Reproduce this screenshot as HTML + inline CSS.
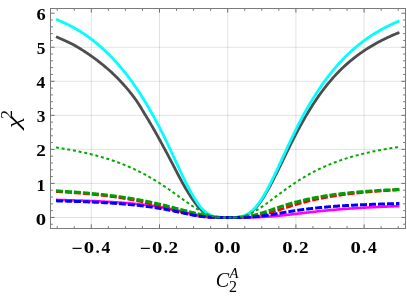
<!DOCTYPE html><html><head><meta charset="utf-8"><style>html,body{margin:0;padding:0;background:#fff;overflow:hidden}svg{display:block}text{font-family:"Liberation Serif",serif;fill:#000}</style></head><body>
<svg width="407" height="296" viewBox="0 0 407 296">
<rect width="407" height="296" fill="#fff"/>
<path d="M91.30 8.50 V228.50 M159.50 8.50 V228.50 M227.70 8.50 V228.50 M295.90 8.50 V228.50 M364.10 8.50 V228.50 M50.50 217.45 H405.50 M50.50 183.41 H405.50 M50.50 149.37 H405.50 M50.50 115.33 H405.50 M50.50 81.29 H405.50 M50.50 47.25 H405.50" stroke="#000" stroke-opacity="0.115" stroke-width="1" fill="none"/>
<clipPath id="c"><rect x="50.50" y="8.50" width="355.00" height="220.00"/></clipPath><g clip-path="url(#c)" fill="none" stroke-linejoin="round">
<path d="M55.97 36.71 L56.83 37.08 L57.68 37.46 L58.54 37.83 L59.39 38.20 L60.24 38.57 L61.10 38.94 L61.95 39.32 L62.81 39.69 L63.66 40.07 L64.52 40.45 L65.37 40.83 L66.22 41.22 L67.08 41.61 L67.93 42.01 L68.79 42.41 L69.64 42.83 L70.50 43.25 L71.35 43.68 L72.21 44.12 L73.06 44.57 L73.91 45.03 L74.77 45.50 L75.62 45.98 L76.48 46.47 L77.33 46.97 L78.19 47.47 L79.04 47.99 L79.89 48.51 L80.75 49.03 L81.60 49.57 L82.46 50.11 L83.31 50.65 L84.17 51.21 L85.02 51.77 L85.88 52.34 L86.73 52.91 L87.58 53.49 L88.44 54.07 L89.29 54.66 L90.15 55.26 L91.00 55.86 L91.86 56.47 L92.71 57.08 L93.56 57.70 L94.42 58.32 L95.27 58.95 L96.13 59.58 L96.98 60.22 L97.84 60.87 L98.69 61.52 L99.55 62.19 L100.40 62.86 L101.25 63.53 L102.11 64.22 L102.96 64.92 L103.82 65.62 L104.67 66.33 L105.53 67.06 L106.38 67.79 L107.23 68.52 L108.09 69.27 L108.94 70.02 L109.80 70.78 L110.65 71.55 L111.51 72.33 L112.36 73.12 L113.21 73.92 L114.07 74.73 L114.92 75.55 L115.78 76.39 L116.63 77.23 L117.49 78.09 L118.34 78.97 L119.20 79.86 L120.05 80.76 L120.90 81.68 L121.76 82.60 L122.61 83.54 L123.47 84.49 L124.32 85.45 L125.18 86.42 L126.03 87.41 L126.88 88.40 L127.74 89.42 L128.59 90.44 L129.45 91.48 L130.30 92.54 L131.16 93.61 L132.01 94.70 L132.87 95.80 L133.72 96.92 L134.57 98.06 L135.43 99.22 L136.28 100.41 L137.14 101.65 L137.99 102.95 L138.85 104.28 L139.70 105.65 L140.55 107.05 L141.41 108.46 L142.26 109.89 L143.12 111.32 L143.97 112.75 L144.83 114.16 L145.68 115.56 L146.54 116.97 L147.39 118.39 L148.24 119.81 L149.10 121.25 L149.95 122.69 L150.81 124.14 L151.66 125.60 L152.52 127.07 L153.37 128.55 L154.22 130.05 L155.08 131.55 L155.93 133.06 L156.79 134.59 L157.64 136.12 L158.50 137.66 L159.35 139.20 L160.21 140.76 L161.06 142.32 L161.91 143.89 L162.77 145.47 L163.62 147.06 L164.48 148.65 L165.33 150.25 L166.19 151.85 L167.04 153.46 L167.89 155.08 L168.75 156.70 L169.60 158.32 L170.46 159.95 L171.31 161.58 L172.17 163.22 L173.02 164.85 L173.87 166.50 L174.73 168.15 L175.58 169.80 L176.44 171.46 L177.29 173.11 L178.15 174.76 L179.00 176.40 L179.86 178.02 L180.71 179.62 L181.56 181.20 L182.42 182.74 L183.27 184.26 L184.13 185.75 L184.98 187.22 L185.84 188.67 L186.69 190.11 L187.54 191.52 L188.40 192.91 L189.25 194.28 L190.11 195.62 L190.96 196.94 L191.82 198.22 L192.67 199.48 L193.53 200.71 L194.38 201.90 L195.23 203.06 L196.09 204.18 L196.94 205.27 L197.80 206.30 L198.65 207.28 L199.51 208.19 L200.36 209.05 L201.21 209.85 L202.07 210.60 L202.92 211.29 L203.78 211.93 L204.63 212.53 L205.49 213.09 L206.34 213.60 L207.20 214.07 L208.05 214.51 L208.90 214.92 L209.76 215.30 L210.61 215.66 L211.47 215.99 L212.32 216.28 L213.18 216.53 L214.03 216.75 L214.88 216.93 L215.74 217.08 L216.59 217.20 L217.45 217.30 L218.30 217.37 L219.16 217.43 L220.01 217.47 L220.87 217.49 L221.72 217.51 L222.57 217.51 L223.43 217.51 L224.28 217.51 L225.14 217.51 L225.99 217.50 L226.85 217.50 L227.70 217.50 L228.55 217.50 L229.41 217.50 L230.26 217.50 L231.12 217.50 L231.97 217.49 L232.83 217.48 L233.68 217.47 L234.53 217.45 L235.39 217.42 L236.24 217.37 L237.10 217.31 L237.95 217.24 L238.81 217.15 L239.66 217.03 L240.52 216.89 L241.37 216.72 L242.22 216.52 L243.08 216.29 L243.93 216.02 L244.79 215.72 L245.64 215.37 L246.50 214.98 L247.35 214.55 L248.20 214.08 L249.06 213.55 L249.91 212.98 L250.77 212.36 L251.62 211.69 L252.48 210.97 L253.33 210.20 L254.19 209.37 L255.04 208.50 L255.89 207.58 L256.75 206.60 L257.60 205.58 L258.46 204.51 L259.31 203.39 L260.17 202.22 L261.02 201.01 L261.87 199.76 L262.73 198.46 L263.58 197.13 L264.44 195.75 L265.29 194.34 L266.15 192.90 L267.00 191.42 L267.86 189.91 L268.71 188.37 L269.56 186.80 L270.42 185.21 L271.27 183.60 L272.13 181.96 L272.98 180.31 L273.84 178.63 L274.69 176.94 L275.54 175.24 L276.40 173.53 L277.25 171.80 L278.11 170.07 L278.96 168.32 L279.82 166.58 L280.67 164.83 L281.53 163.07 L282.38 161.31 L283.23 159.56 L284.09 157.80 L284.94 156.05 L285.80 154.30 L286.65 152.56 L287.51 150.82 L288.36 149.08 L289.21 147.36 L290.07 145.64 L290.92 143.93 L291.78 142.23 L292.63 140.55 L293.49 138.87 L294.34 137.20 L295.19 135.55 L296.05 133.91 L296.90 132.28 L297.76 130.67 L298.61 129.07 L299.47 127.49 L300.32 125.92 L301.18 124.36 L302.03 122.82 L302.88 121.30 L303.74 119.79 L304.59 118.30 L305.45 116.82 L306.30 115.36 L307.16 113.92 L308.01 112.49 L308.86 111.08 L309.72 109.69 L310.57 108.31 L311.43 106.95 L312.28 105.60 L313.14 104.27 L313.99 102.96 L314.85 101.67 L315.70 100.39 L316.55 99.12 L317.41 97.88 L318.26 96.65 L319.12 95.43 L319.97 94.23 L320.83 93.05 L321.68 91.88 L322.53 90.73 L323.39 89.60 L324.24 88.47 L325.10 87.37 L325.95 86.28 L326.81 85.20 L327.66 84.14 L328.52 83.09 L329.37 82.06 L330.22 81.04 L331.08 80.04 L331.93 79.05 L332.79 78.08 L333.64 77.12 L334.50 76.17 L335.35 75.24 L336.20 74.33 L337.06 73.42 L337.91 72.54 L338.77 71.66 L339.62 70.80 L340.48 69.95 L341.33 69.11 L342.19 68.29 L343.04 67.48 L343.89 66.68 L344.75 65.89 L345.60 65.11 L346.46 64.35 L347.31 63.60 L348.17 62.85 L349.02 62.12 L349.87 61.40 L350.73 60.69 L351.58 59.99 L352.44 59.29 L353.29 58.61 L354.15 57.94 L355.00 57.28 L355.85 56.62 L356.71 55.98 L357.56 55.34 L358.42 54.71 L359.27 54.09 L360.13 53.48 L360.98 52.87 L361.84 52.28 L362.69 51.69 L363.54 51.11 L364.40 50.53 L365.25 49.96 L366.11 49.40 L366.96 48.85 L367.82 48.31 L368.67 47.77 L369.52 47.24 L370.38 46.72 L371.23 46.20 L372.09 45.69 L372.94 45.19 L373.80 44.69 L374.65 44.20 L375.51 43.72 L376.36 43.24 L377.21 42.77 L378.07 42.31 L378.92 41.85 L379.78 41.40 L380.63 40.95 L381.49 40.51 L382.34 40.07 L383.19 39.64 L384.05 39.22 L384.90 38.80 L385.76 38.39 L386.61 37.98 L387.47 37.58 L388.32 37.18 L389.18 36.79 L390.03 36.40 L390.88 36.01 L391.74 35.64 L392.59 35.26 L393.45 34.89 L394.30 34.53 L395.16 34.17 L396.01 33.81 L396.86 33.46 L397.72 33.11 L398.57 32.77 L399.43 32.43" stroke="#4d4d4d" stroke-width="2.80"/>
<path d="M55.97 19.17 L56.83 19.55 L57.68 19.93 L58.54 20.32 L59.39 20.70 L60.24 21.08 L61.10 21.46 L61.95 21.84 L62.81 22.22 L63.66 22.61 L64.52 23.00 L65.37 23.39 L66.22 23.79 L67.08 24.19 L67.93 24.60 L68.79 25.02 L69.64 25.44 L70.50 25.88 L71.35 26.32 L72.21 26.77 L73.06 27.23 L73.91 27.71 L74.77 28.19 L75.62 28.69 L76.48 29.18 L77.33 29.69 L78.19 30.20 L79.04 30.72 L79.89 31.24 L80.75 31.78 L81.60 32.32 L82.46 32.87 L83.31 33.42 L84.17 33.99 L85.02 34.56 L85.88 35.15 L86.73 35.74 L87.58 36.35 L88.44 36.96 L89.29 37.58 L90.15 38.22 L91.00 38.86 L91.86 39.52 L92.71 40.19 L93.56 40.86 L94.42 41.54 L95.27 42.23 L96.13 42.93 L96.98 43.64 L97.84 44.36 L98.69 45.08 L99.55 45.82 L100.40 46.56 L101.25 47.32 L102.11 48.08 L102.96 48.85 L103.82 49.63 L104.67 50.43 L105.53 51.23 L106.38 52.04 L107.23 52.87 L108.09 53.70 L108.94 54.54 L109.80 55.40 L110.65 56.26 L111.51 57.14 L112.36 58.03 L113.21 58.93 L114.07 59.84 L114.92 60.76 L115.78 61.69 L116.63 62.64 L117.49 63.59 L118.34 64.56 L119.20 65.54 L120.05 66.54 L120.90 67.54 L121.76 68.56 L122.61 69.59 L123.47 70.64 L124.32 71.70 L125.18 72.77 L126.03 73.85 L126.88 74.95 L127.74 76.06 L128.59 77.18 L129.45 78.32 L130.30 79.47 L131.16 80.64 L132.01 81.82 L132.87 83.01 L133.72 84.22 L134.57 85.44 L135.43 86.68 L136.28 87.93 L137.14 89.19 L137.99 90.47 L138.85 91.77 L139.70 93.08 L140.55 94.40 L141.41 95.74 L142.26 97.09 L143.12 98.46 L143.97 99.85 L144.83 101.24 L145.68 102.66 L146.54 104.09 L147.39 105.53 L148.24 106.99 L149.10 108.46 L149.95 109.95 L150.81 111.45 L151.66 112.96 L152.52 114.49 L153.37 116.04 L154.22 117.60 L155.08 119.17 L155.93 120.75 L156.79 122.35 L157.64 123.97 L158.50 125.59 L159.35 127.23 L160.21 128.88 L161.06 130.55 L161.91 132.24 L162.77 133.95 L163.62 135.68 L164.48 137.42 L165.33 139.17 L166.19 140.94 L167.04 142.73 L167.89 144.52 L168.75 146.32 L169.60 148.14 L170.46 149.96 L171.31 151.78 L172.17 153.62 L173.02 155.45 L173.87 157.29 L174.73 159.13 L175.58 160.96 L176.44 162.80 L177.29 164.63 L178.15 166.46 L179.00 168.30 L179.86 170.15 L180.71 171.99 L181.56 173.82 L182.42 175.64 L183.27 177.45 L184.13 179.22 L184.98 180.97 L185.84 182.69 L186.69 184.36 L187.54 186.00 L188.40 187.62 L189.25 189.21 L190.11 190.77 L190.96 192.31 L191.82 193.82 L192.67 195.30 L193.53 196.74 L194.38 198.15 L195.23 199.52 L196.09 200.86 L196.94 202.15 L197.80 203.40 L198.65 204.61 L199.51 205.75 L200.36 206.83 L201.21 207.82 L202.07 208.75 L202.92 209.62 L203.78 210.42 L204.63 211.16 L205.49 211.84 L206.34 212.48 L207.20 213.07 L208.05 213.62 L208.90 214.13 L209.76 214.61 L210.61 215.06 L211.47 215.48 L212.32 215.85 L213.18 216.18 L214.03 216.46 L214.88 216.70 L215.74 216.90 L216.59 217.06 L217.45 217.19 L218.30 217.30 L219.16 217.37 L220.01 217.43 L220.87 217.47 L221.72 217.49 L222.57 217.51 L223.43 217.51 L224.28 217.51 L225.14 217.51 L225.99 217.50 L226.85 217.50 L227.70 217.50 L228.55 217.50 L229.41 217.50 L230.26 217.50 L231.12 217.50 L231.97 217.49 L232.83 217.48 L233.68 217.47 L234.53 217.44 L235.39 217.41 L236.24 217.36 L237.10 217.30 L237.95 217.22 L238.81 217.12 L239.66 217.00 L240.52 216.85 L241.37 216.67 L242.22 216.46 L243.08 216.21 L243.93 215.93 L244.79 215.60 L245.64 215.24 L246.50 214.83 L247.35 214.37 L248.20 213.86 L249.06 213.31 L249.91 212.70 L250.77 212.05 L251.62 211.34 L252.48 210.58 L253.33 209.76 L254.19 208.89 L255.04 207.97 L255.89 206.99 L256.75 205.96 L257.60 204.88 L258.46 203.75 L259.31 202.57 L260.17 201.34 L261.02 200.07 L261.87 198.74 L262.73 197.38 L263.58 195.97 L264.44 194.52 L265.29 193.04 L266.15 191.52 L267.00 189.96 L267.86 188.37 L268.71 186.75 L269.56 185.10 L270.42 183.43 L271.27 181.73 L272.13 180.00 L272.98 178.26 L273.84 176.50 L274.69 174.72 L275.54 172.93 L276.40 171.12 L277.25 169.31 L278.11 167.48 L278.96 165.64 L279.82 163.80 L280.67 161.96 L281.53 160.11 L282.38 158.26 L283.23 156.41 L284.09 154.56 L284.94 152.71 L285.80 150.86 L286.65 149.02 L287.51 147.19 L288.36 145.36 L289.21 143.54 L290.07 141.72 L290.92 139.92 L291.78 138.13 L292.63 136.34 L293.49 134.57 L294.34 132.81 L295.19 131.06 L296.05 129.33 L296.90 127.61 L297.76 125.91 L298.61 124.23 L299.47 122.56 L300.32 120.92 L301.18 119.29 L302.03 117.68 L302.88 116.09 L303.74 114.51 L304.59 112.96 L305.45 111.42 L306.30 109.90 L307.16 108.40 L308.01 106.92 L308.86 105.45 L309.72 104.01 L310.57 102.57 L311.43 101.16 L312.28 99.76 L313.14 98.38 L313.99 97.01 L314.85 95.66 L315.70 94.33 L316.55 93.01 L317.41 91.71 L318.26 90.42 L319.12 89.14 L319.97 87.88 L320.83 86.63 L321.68 85.40 L322.53 84.17 L323.39 82.96 L324.24 81.77 L325.10 80.59 L325.95 79.43 L326.81 78.28 L327.66 77.15 L328.52 76.03 L329.37 74.92 L330.22 73.84 L331.08 72.76 L331.93 71.71 L332.79 70.66 L333.64 69.63 L334.50 68.62 L335.35 67.61 L336.20 66.63 L337.06 65.65 L337.91 64.69 L338.77 63.74 L339.62 62.81 L340.48 61.88 L341.33 60.98 L342.19 60.08 L343.04 59.19 L343.89 58.32 L344.75 57.46 L345.60 56.61 L346.46 55.76 L347.31 54.93 L348.17 54.11 L349.02 53.30 L349.87 52.50 L350.73 51.71 L351.58 50.93 L352.44 50.16 L353.29 49.40 L354.15 48.65 L355.00 47.91 L355.85 47.17 L356.71 46.45 L357.56 45.74 L358.42 45.04 L359.27 44.35 L360.13 43.67 L360.98 43.00 L361.84 42.35 L362.69 41.70 L363.54 41.06 L364.40 40.43 L365.25 39.81 L366.11 39.20 L366.96 38.59 L367.82 38.00 L368.67 37.41 L369.52 36.83 L370.38 36.26 L371.23 35.70 L372.09 35.14 L372.94 34.59 L373.80 34.05 L374.65 33.52 L375.51 33.00 L376.36 32.48 L377.21 31.97 L378.07 31.46 L378.92 30.96 L379.78 30.47 L380.63 29.99 L381.49 29.51 L382.34 29.04 L383.19 28.58 L384.05 28.12 L384.90 27.67 L385.76 27.22 L386.61 26.78 L387.47 26.35 L388.32 25.92 L389.18 25.50 L390.03 25.08 L390.88 24.67 L391.74 24.27 L392.59 23.87 L393.45 23.48 L394.30 23.09 L395.16 22.71 L396.01 22.33 L396.86 21.96 L397.72 21.59 L398.57 21.23 L399.43 20.87" stroke="#00ffff" stroke-width="2.80"/>
<path d="M55.97 199.90 L56.83 199.92 L57.68 199.94 L58.54 199.96 L59.39 199.98 L60.24 200.00 L61.10 200.02 L61.95 200.05 L62.81 200.07 L63.66 200.09 L64.52 200.11 L65.37 200.13 L66.22 200.16 L67.08 200.18 L67.93 200.20 L68.79 200.23 L69.64 200.25 L70.50 200.28 L71.35 200.30 L72.21 200.33 L73.06 200.35 L73.91 200.38 L74.77 200.41 L75.62 200.43 L76.48 200.46 L77.33 200.49 L78.19 200.52 L79.04 200.54 L79.89 200.57 L80.75 200.60 L81.60 200.63 L82.46 200.66 L83.31 200.69 L84.17 200.72 L85.02 200.76 L85.88 200.79 L86.73 200.82 L87.58 200.85 L88.44 200.89 L89.29 200.92 L90.15 200.96 L91.00 200.99 L91.86 201.03 L92.71 201.06 L93.56 201.10 L94.42 201.14 L95.27 201.17 L96.13 201.21 L96.98 201.25 L97.84 201.29 L98.69 201.33 L99.55 201.37 L100.40 201.41 L101.25 201.46 L102.11 201.50 L102.96 201.54 L103.82 201.59 L104.67 201.63 L105.53 201.68 L106.38 201.73 L107.23 201.77 L108.09 201.82 L108.94 201.87 L109.80 201.92 L110.65 201.97 L111.51 202.02 L112.36 202.07 L113.21 202.13 L114.07 202.18 L114.92 202.24 L115.78 202.29 L116.63 202.35 L117.49 202.41 L118.34 202.47 L119.20 202.52 L120.05 202.59 L120.90 202.65 L121.76 202.71 L122.61 202.77 L123.47 202.84 L124.32 202.91 L125.18 202.97 L126.03 203.04 L126.88 203.11 L127.74 203.18 L128.59 203.26 L129.45 203.33 L130.30 203.41 L131.16 203.48 L132.01 203.56 L132.87 203.64 L133.72 203.72 L134.57 203.80 L135.43 203.88 L136.28 203.97 L137.14 204.06 L137.99 204.14 L138.85 204.23 L139.70 204.33 L140.55 204.42 L141.41 204.51 L142.26 204.61 L143.12 204.71 L143.97 204.81 L144.83 204.91 L145.68 205.01 L146.54 205.12 L147.39 205.23 L148.24 205.33 L149.10 205.45 L149.95 205.56 L150.81 205.67 L151.66 205.79 L152.52 205.91 L153.37 206.03 L154.22 206.16 L155.08 206.28 L155.93 206.41 L156.79 206.54 L157.64 206.67 L158.50 206.81 L159.35 206.94 L160.21 207.08 L161.06 207.23 L161.91 207.37 L162.77 207.52 L163.62 207.67 L164.48 207.82 L165.33 207.97 L166.19 208.13 L167.04 208.29 L167.89 208.45 L168.75 208.61 L169.60 208.78 L170.46 208.94 L171.31 209.11 L172.17 209.29 L173.02 209.46 L173.87 209.64 L174.73 209.82 L175.58 210.00 L176.44 210.18 L177.29 210.37 L178.15 210.55 L179.00 210.74 L179.86 210.93 L180.71 211.13 L181.56 211.32 L182.42 211.52 L183.27 211.71 L184.13 211.91 L184.98 212.11 L185.84 212.31 L186.69 212.51 L187.54 212.70 L188.40 212.90 L189.25 213.10 L190.11 213.30 L190.96 213.50 L191.82 213.70 L192.67 213.89 L193.53 214.08 L194.38 214.27 L195.23 214.46 L196.09 214.65 L196.94 214.83 L197.80 215.01 L198.65 215.19 L199.51 215.36 L200.36 215.52 L201.21 215.68 L202.07 215.84 L202.92 215.99 L203.78 216.13 L204.63 216.27 L205.49 216.40 L206.34 216.52 L207.20 216.63 L208.05 216.74 L208.90 216.84 L209.76 216.93 L210.61 217.02 L211.47 217.09 L212.32 217.16 L213.18 217.22 L214.03 217.27 L214.88 217.32 L215.74 217.36 L216.59 217.39 L217.45 217.42 L218.30 217.44 L219.16 217.46 L220.01 217.47 L220.87 217.48 L221.72 217.49 L222.57 217.49 L223.43 217.50 L224.28 217.50 L225.14 217.50 L225.99 217.50 L226.85 217.50 L227.70 217.50 L228.55 217.50 L229.41 217.50 L230.26 217.50 L231.12 217.50 L231.97 217.50 L232.83 217.50 L233.68 217.50 L234.53 217.50 L235.39 217.50 L236.24 217.50 L237.10 217.50 L237.95 217.49 L238.81 217.49 L239.66 217.49 L240.52 217.49 L241.37 217.48 L242.22 217.48 L243.08 217.47 L243.93 217.47 L244.79 217.46 L245.64 217.45 L246.50 217.44 L247.35 217.43 L248.20 217.42 L249.06 217.41 L249.91 217.40 L250.77 217.38 L251.62 217.36 L252.48 217.34 L253.33 217.32 L254.19 217.30 L255.04 217.28 L255.89 217.25 L256.75 217.22 L257.60 217.19 L258.46 217.16 L259.31 217.12 L260.17 217.09 L261.02 217.05 L261.87 217.01 L262.73 216.97 L263.58 216.92 L264.44 216.87 L265.29 216.82 L266.15 216.77 L267.00 216.71 L267.86 216.66 L268.71 216.60 L269.56 216.54 L270.42 216.47 L271.27 216.41 L272.13 216.34 L272.98 216.27 L273.84 216.20 L274.69 216.13 L275.54 216.05 L276.40 215.97 L277.25 215.89 L278.11 215.81 L278.96 215.73 L279.82 215.65 L280.67 215.56 L281.53 215.48 L282.38 215.39 L283.23 215.30 L284.09 215.21 L284.94 215.11 L285.80 215.02 L286.65 214.93 L287.51 214.83 L288.36 214.74 L289.21 214.64 L290.07 214.54 L290.92 214.44 L291.78 214.35 L292.63 214.25 L293.49 214.15 L294.34 214.05 L295.19 213.95 L296.05 213.85 L296.90 213.75 L297.76 213.65 L298.61 213.55 L299.47 213.45 L300.32 213.35 L301.18 213.24 L302.03 213.14 L302.88 213.04 L303.74 212.94 L304.59 212.85 L305.45 212.75 L306.30 212.65 L307.16 212.55 L308.01 212.45 L308.86 212.35 L309.72 212.26 L310.57 212.16 L311.43 212.07 L312.28 211.97 L313.14 211.88 L313.99 211.78 L314.85 211.69 L315.70 211.60 L316.55 211.50 L317.41 211.41 L318.26 211.32 L319.12 211.23 L319.97 211.15 L320.83 211.06 L321.68 210.97 L322.53 210.88 L323.39 210.80 L324.24 210.71 L325.10 210.63 L325.95 210.55 L326.81 210.47 L327.66 210.39 L328.52 210.30 L329.37 210.23 L330.22 210.15 L331.08 210.07 L331.93 209.99 L332.79 209.92 L333.64 209.84 L334.50 209.77 L335.35 209.69 L336.20 209.62 L337.06 209.55 L337.91 209.48 L338.77 209.41 L339.62 209.34 L340.48 209.27 L341.33 209.20 L342.19 209.14 L343.04 209.07 L343.89 209.00 L344.75 208.94 L345.60 208.88 L346.46 208.81 L347.31 208.75 L348.17 208.69 L349.02 208.63 L349.87 208.57 L350.73 208.51 L351.58 208.45 L352.44 208.40 L353.29 208.34 L354.15 208.28 L355.00 208.23 L355.85 208.17 L356.71 208.12 L357.56 208.07 L358.42 208.01 L359.27 207.96 L360.13 207.91 L360.98 207.86 L361.84 207.81 L362.69 207.76 L363.54 207.71 L364.40 207.66 L365.25 207.61 L366.11 207.57 L366.96 207.52 L367.82 207.48 L368.67 207.43 L369.52 207.39 L370.38 207.34 L371.23 207.30 L372.09 207.26 L372.94 207.21 L373.80 207.17 L374.65 207.13 L375.51 207.09 L376.36 207.05 L377.21 207.01 L378.07 206.97 L378.92 206.93 L379.78 206.89 L380.63 206.86 L381.49 206.82 L382.34 206.78 L383.19 206.74 L384.05 206.71 L384.90 206.67 L385.76 206.64 L386.61 206.60 L387.47 206.57 L388.32 206.54 L389.18 206.50 L390.03 206.47 L390.88 206.44 L391.74 206.40 L392.59 206.37 L393.45 206.34 L394.30 206.31 L395.16 206.28 L396.01 206.25 L396.86 206.22 L397.72 206.19 L398.57 206.16 L399.43 206.13" stroke="#ff00ff" stroke-width="2.60"/>
<path d="M55.97 191.48 L56.83 191.53 L57.68 191.58 L58.54 191.63 L59.39 191.68 L60.24 191.74 L61.10 191.79 L61.95 191.84 L62.81 191.90 L63.66 191.95 L64.52 192.01 L65.37 192.06 L66.22 192.12 L67.08 192.18 L67.93 192.24 L68.79 192.30 L69.64 192.36 L70.50 192.42 L71.35 192.48 L72.21 192.54 L73.06 192.61 L73.91 192.67 L74.77 192.73 L75.62 192.80 L76.48 192.87 L77.33 192.93 L78.19 193.00 L79.04 193.07 L79.89 193.14 L80.75 193.21 L81.60 193.28 L82.46 193.36 L83.31 193.43 L84.17 193.50 L85.02 193.58 L85.88 193.66 L86.73 193.73 L87.58 193.81 L88.44 193.89 L89.29 193.97 L90.15 194.05 L91.00 194.14 L91.86 194.22 L92.71 194.31 L93.56 194.39 L94.42 194.48 L95.27 194.57 L96.13 194.66 L96.98 194.75 L97.84 194.84 L98.69 194.93 L99.55 195.03 L100.40 195.12 L101.25 195.22 L102.11 195.32 L102.96 195.42 L103.82 195.52 L104.67 195.62 L105.53 195.73 L106.38 195.83 L107.23 195.94 L108.09 196.05 L108.94 196.15 L109.80 196.27 L110.65 196.38 L111.51 196.49 L112.36 196.61 L113.21 196.72 L114.07 196.84 L114.92 196.96 L115.78 197.09 L116.63 197.21 L117.49 197.33 L118.34 197.46 L119.20 197.59 L120.05 197.72 L120.90 197.85 L121.76 197.99 L122.61 198.12 L123.47 198.26 L124.32 198.40 L125.18 198.54 L126.03 198.68 L126.88 198.83 L127.74 198.98 L128.59 199.13 L129.45 199.28 L130.30 199.43 L131.16 199.58 L132.01 199.74 L132.87 199.90 L133.72 200.06 L134.57 200.22 L135.43 200.39 L136.28 200.56 L137.14 200.73 L137.99 200.90 L138.85 201.07 L139.70 201.25 L140.55 201.42 L141.41 201.60 L142.26 201.79 L143.12 201.97 L143.97 202.16 L144.83 202.35 L145.68 202.54 L146.54 202.73 L147.39 202.93 L148.24 203.12 L149.10 203.32 L149.95 203.53 L150.81 203.73 L151.66 203.94 L152.52 204.14 L153.37 204.35 L154.22 204.57 L155.08 204.78 L155.93 205.00 L156.79 205.21 L157.64 205.43 L158.50 205.66 L159.35 205.88 L160.21 206.11 L161.06 206.33 L161.91 206.56 L162.77 206.79 L163.62 207.02 L164.48 207.26 L165.33 207.49 L166.19 207.73 L167.04 207.96 L167.89 208.20 L168.75 208.44 L169.60 208.68 L170.46 208.92 L171.31 209.16 L172.17 209.40 L173.02 209.64 L173.87 209.88 L174.73 210.12 L175.58 210.36 L176.44 210.60 L177.29 210.84 L178.15 211.08 L179.00 211.31 L179.86 211.55 L180.71 211.78 L181.56 212.02 L182.42 212.25 L183.27 212.47 L184.13 212.70 L184.98 212.92 L185.84 213.14 L186.69 213.36 L187.54 213.57 L188.40 213.78 L189.25 213.99 L190.11 214.19 L190.96 214.39 L191.82 214.58 L192.67 214.76 L193.53 214.95 L194.38 215.12 L195.23 215.29 L196.09 215.46 L196.94 215.62 L197.80 215.77 L198.65 215.91 L199.51 216.05 L200.36 216.18 L201.21 216.31 L202.07 216.43 L202.92 216.54 L203.78 216.64 L204.63 216.74 L205.49 216.83 L206.34 216.91 L207.20 216.99 L208.05 217.06 L208.90 217.12 L209.76 217.18 L210.61 217.23 L211.47 217.28 L212.32 217.32 L213.18 217.35 L214.03 217.38 L214.88 217.41 L215.74 217.43 L216.59 217.45 L217.45 217.46 L218.30 217.47 L219.16 217.48 L220.01 217.49 L220.87 217.49 L221.72 217.50 L222.57 217.50 L223.43 217.50 L224.28 217.50 L225.14 217.50 L225.99 217.50 L226.85 217.50 L227.70 217.50 L228.55 217.50 L229.41 217.50 L230.26 217.50 L231.12 217.50 L231.97 217.50 L232.83 217.50 L233.68 217.50 L234.53 217.49 L235.39 217.49 L236.24 217.48 L237.10 217.47 L237.95 217.46 L238.81 217.45 L239.66 217.43 L240.52 217.41 L241.37 217.39 L242.22 217.36 L243.08 217.33 L243.93 217.29 L244.79 217.25 L245.64 217.20 L246.50 217.14 L247.35 217.08 L248.20 217.01 L249.06 216.93 L249.91 216.85 L250.77 216.75 L251.62 216.65 L252.48 216.55 L253.33 216.43 L254.19 216.31 L255.04 216.17 L255.89 216.03 L256.75 215.88 L257.60 215.73 L258.46 215.56 L259.31 215.39 L260.17 215.21 L261.02 215.02 L261.87 214.83 L262.73 214.63 L263.58 214.42 L264.44 214.20 L265.29 213.98 L266.15 213.76 L267.00 213.52 L267.86 213.29 L268.71 213.04 L269.56 212.80 L270.42 212.55 L271.27 212.29 L272.13 212.03 L272.98 211.77 L273.84 211.51 L274.69 211.24 L275.54 210.97 L276.40 210.70 L277.25 210.42 L278.11 210.15 L278.96 209.87 L279.82 209.60 L280.67 209.32 L281.53 209.04 L282.38 208.77 L283.23 208.49 L284.09 208.21 L284.94 207.94 L285.80 207.66 L286.65 207.39 L287.51 207.12 L288.36 206.84 L289.21 206.58 L290.07 206.31 L290.92 206.04 L291.78 205.78 L292.63 205.51 L293.49 205.25 L294.34 205.00 L295.19 204.74 L296.05 204.49 L296.90 204.24 L297.76 203.99 L298.61 203.74 L299.47 203.50 L300.32 203.26 L301.18 203.02 L302.03 202.79 L302.88 202.56 L303.74 202.33 L304.59 202.10 L305.45 201.88 L306.30 201.66 L307.16 201.44 L308.01 201.23 L308.86 201.01 L309.72 200.80 L310.57 200.60 L311.43 200.40 L312.28 200.20 L313.14 200.00 L313.99 199.80 L314.85 199.61 L315.70 199.42 L316.55 199.24 L317.41 199.05 L318.26 198.87 L319.12 198.69 L319.97 198.52 L320.83 198.35 L321.68 198.17 L322.53 198.01 L323.39 197.84 L324.24 197.68 L325.10 197.52 L325.95 197.36 L326.81 197.21 L327.66 197.05 L328.52 196.90 L329.37 196.75 L330.22 196.61 L331.08 196.46 L331.93 196.32 L332.79 196.18 L333.64 196.05 L334.50 195.91 L335.35 195.78 L336.20 195.65 L337.06 195.52 L337.91 195.39 L338.77 195.26 L339.62 195.14 L340.48 195.02 L341.33 194.90 L342.19 194.78 L343.04 194.67 L343.89 194.55 L344.75 194.44 L345.60 194.33 L346.46 194.22 L347.31 194.11 L348.17 194.01 L349.02 193.90 L349.87 193.80 L350.73 193.70 L351.58 193.60 L352.44 193.50 L353.29 193.41 L354.15 193.31 L355.00 193.22 L355.85 193.13 L356.71 193.04 L357.56 192.95 L358.42 192.86 L359.27 192.77 L360.13 192.69 L360.98 192.60 L361.84 192.52 L362.69 192.44 L363.54 192.36 L364.40 192.28 L365.25 192.20 L366.11 192.12 L366.96 192.04 L367.82 191.97 L368.67 191.90 L369.52 191.82 L370.38 191.75 L371.23 191.68 L372.09 191.61 L372.94 191.54 L373.80 191.47 L374.65 191.41 L375.51 191.34 L376.36 191.28 L377.21 191.21 L378.07 191.15 L378.92 191.09 L379.78 191.02 L380.63 190.96 L381.49 190.90 L382.34 190.84 L383.19 190.79 L384.05 190.73 L384.90 190.67 L385.76 190.62 L386.61 190.56 L387.47 190.51 L388.32 190.45 L389.18 190.40 L390.03 190.35 L390.88 190.30 L391.74 190.24 L392.59 190.19 L393.45 190.15 L394.30 190.10 L395.16 190.05 L396.01 190.00 L396.86 189.95 L397.72 189.91 L398.57 189.86 L399.43 189.82" stroke="#ff0000" stroke-width="2.80" stroke-dasharray="7 2"/>
<path d="M55.97 190.82 L56.83 190.87 L57.68 190.92 L58.54 190.97 L59.39 191.02 L60.24 191.08 L61.10 191.13 L61.95 191.18 L62.81 191.23 L63.66 191.29 L64.52 191.34 L65.37 191.40 L66.22 191.45 L67.08 191.51 L67.93 191.57 L68.79 191.63 L69.64 191.68 L70.50 191.74 L71.35 191.80 L72.21 191.86 L73.06 191.93 L73.91 191.99 L74.77 192.05 L75.62 192.11 L76.48 192.18 L77.33 192.24 L78.19 192.31 L79.04 192.38 L79.89 192.44 L80.75 192.51 L81.60 192.58 L82.46 192.65 L83.31 192.72 L84.17 192.79 L85.02 192.87 L85.88 192.94 L86.73 193.01 L87.58 193.09 L88.44 193.17 L89.29 193.24 L90.15 193.32 L91.00 193.40 L91.86 193.48 L92.71 193.56 L93.56 193.64 L94.42 193.73 L95.27 193.81 L96.13 193.89 L96.98 193.98 L97.84 194.07 L98.69 194.16 L99.55 194.25 L100.40 194.34 L101.25 194.43 L102.11 194.52 L102.96 194.61 L103.82 194.71 L104.67 194.81 L105.53 194.90 L106.38 195.00 L107.23 195.10 L108.09 195.20 L108.94 195.31 L109.80 195.41 L110.65 195.51 L111.51 195.62 L112.36 195.73 L113.21 195.84 L114.07 195.95 L114.92 196.06 L115.78 196.17 L116.63 196.29 L117.49 196.40 L118.34 196.52 L119.20 196.64 L120.05 196.76 L120.90 196.88 L121.76 197.00 L122.61 197.13 L123.47 197.25 L124.32 197.38 L125.18 197.51 L126.03 197.64 L126.88 197.77 L127.74 197.91 L128.59 198.04 L129.45 198.18 L130.30 198.32 L131.16 198.46 L132.01 198.60 L132.87 198.75 L133.72 198.89 L134.57 199.04 L135.43 199.19 L136.28 199.34 L137.14 199.49 L137.99 199.65 L138.85 199.80 L139.70 199.96 L140.55 200.12 L141.41 200.28 L142.26 200.45 L143.12 200.61 L143.97 200.78 L144.83 200.95 L145.68 201.12 L146.54 201.29 L147.39 201.46 L148.24 201.64 L149.10 201.82 L149.95 202.00 L150.81 202.18 L151.66 202.36 L152.52 202.55 L153.37 202.73 L154.22 202.92 L155.08 203.11 L155.93 203.31 L156.79 203.50 L157.64 203.70 L158.50 203.89 L159.35 204.09 L160.21 204.29 L161.06 204.49 L161.91 204.70 L162.77 204.90 L163.62 205.11 L164.48 205.32 L165.33 205.53 L166.19 205.74 L167.04 205.95 L167.89 206.16 L168.75 206.38 L169.60 206.60 L170.46 206.81 L171.31 207.03 L172.17 207.25 L173.02 207.47 L173.87 207.69 L174.73 207.91 L175.58 208.13 L176.44 208.36 L177.29 208.58 L178.15 208.81 L179.00 209.03 L179.86 209.25 L180.71 209.48 L181.56 209.70 L182.42 209.93 L183.27 210.15 L184.13 210.38 L184.98 210.60 L185.84 210.82 L186.69 211.04 L187.54 211.26 L188.40 211.48 L189.25 211.70 L190.11 211.92 L190.96 212.14 L191.82 212.35 L192.67 212.56 L193.53 212.77 L194.38 212.98 L195.23 213.19 L196.09 213.39 L196.94 213.59 L197.80 213.79 L198.65 213.99 L199.51 214.18 L200.36 214.37 L201.21 214.55 L202.07 214.73 L202.92 214.91 L203.78 215.09 L204.63 215.25 L205.49 215.42 L206.34 215.58 L207.20 215.73 L208.05 215.88 L208.90 216.03 L209.76 216.17 L210.61 216.30 L211.47 216.43 L212.32 216.55 L213.18 216.67 L214.03 216.78 L214.88 216.88 L215.74 216.97 L216.59 217.06 L217.45 217.14 L218.30 217.21 L219.16 217.28 L220.01 217.34 L220.87 217.38 L221.72 217.42 L222.57 217.45 L223.43 217.47 L224.28 217.49 L225.14 217.50 L225.99 217.50 L226.85 217.50 L227.70 217.50 L228.55 217.50 L229.41 217.50 L230.26 217.50 L231.12 217.50 L231.97 217.50 L232.83 217.49 L233.68 217.49 L234.53 217.48 L235.39 217.47 L236.24 217.45 L237.10 217.43 L237.95 217.40 L238.81 217.37 L239.66 217.33 L240.52 217.28 L241.37 217.22 L242.22 217.16 L243.08 217.08 L243.93 216.99 L244.79 216.90 L245.64 216.79 L246.50 216.67 L247.35 216.55 L248.20 216.41 L249.06 216.26 L249.91 216.10 L250.77 215.93 L251.62 215.75 L252.48 215.56 L253.33 215.37 L254.19 215.16 L255.04 214.94 L255.89 214.72 L256.75 214.49 L257.60 214.25 L258.46 214.01 L259.31 213.76 L260.17 213.50 L261.02 213.24 L261.87 212.97 L262.73 212.70 L263.58 212.43 L264.44 212.15 L265.29 211.87 L266.15 211.58 L267.00 211.30 L267.86 211.01 L268.71 210.72 L269.56 210.43 L270.42 210.13 L271.27 209.84 L272.13 209.55 L272.98 209.26 L273.84 208.96 L274.69 208.67 L275.54 208.38 L276.40 208.09 L277.25 207.81 L278.11 207.52 L278.96 207.23 L279.82 206.95 L280.67 206.67 L281.53 206.39 L282.38 206.11 L283.23 205.84 L284.09 205.57 L284.94 205.30 L285.80 205.03 L286.65 204.77 L287.51 204.50 L288.36 204.25 L289.21 203.99 L290.07 203.74 L290.92 203.49 L291.78 203.24 L292.63 203.00 L293.49 202.76 L294.34 202.52 L295.19 202.29 L296.05 202.06 L296.90 201.83 L297.76 201.60 L298.61 201.38 L299.47 201.16 L300.32 200.95 L301.18 200.74 L302.03 200.53 L302.88 200.32 L303.74 200.12 L304.59 199.92 L305.45 199.72 L306.30 199.53 L307.16 199.33 L308.01 199.15 L308.86 198.96 L309.72 198.78 L310.57 198.60 L311.43 198.42 L312.28 198.25 L313.14 198.08 L313.99 197.91 L314.85 197.74 L315.70 197.58 L316.55 197.42 L317.41 197.26 L318.26 197.10 L319.12 196.95 L319.97 196.80 L320.83 196.65 L321.68 196.51 L322.53 196.36 L323.39 196.22 L324.24 196.08 L325.10 195.94 L325.95 195.81 L326.81 195.68 L327.66 195.54 L328.52 195.42 L329.37 195.29 L330.22 195.17 L331.08 195.04 L331.93 194.92 L332.79 194.80 L333.64 194.69 L334.50 194.57 L335.35 194.46 L336.20 194.35 L337.06 194.24 L337.91 194.13 L338.77 194.02 L339.62 193.92 L340.48 193.81 L341.33 193.71 L342.19 193.61 L343.04 193.52 L343.89 193.42 L344.75 193.32 L345.60 193.23 L346.46 193.14 L347.31 193.05 L348.17 192.96 L349.02 192.87 L349.87 192.78 L350.73 192.70 L351.58 192.61 L352.44 192.53 L353.29 192.45 L354.15 192.37 L355.00 192.29 L355.85 192.21 L356.71 192.13 L357.56 192.06 L358.42 191.98 L359.27 191.91 L360.13 191.83 L360.98 191.76 L361.84 191.69 L362.69 191.62 L363.54 191.55 L364.40 191.49 L365.25 191.42 L366.11 191.35 L366.96 191.29 L367.82 191.23 L368.67 191.16 L369.52 191.10 L370.38 191.04 L371.23 190.98 L372.09 190.92 L372.94 190.86 L373.80 190.80 L374.65 190.75 L375.51 190.69 L376.36 190.64 L377.21 190.58 L378.07 190.53 L378.92 190.48 L379.78 190.42 L380.63 190.37 L381.49 190.32 L382.34 190.27 L383.19 190.22 L384.05 190.17 L384.90 190.12 L385.76 190.08 L386.61 190.03 L387.47 189.98 L388.32 189.94 L389.18 189.89 L390.03 189.85 L390.88 189.80 L391.74 189.76 L392.59 189.72 L393.45 189.67 L394.30 189.63 L395.16 189.59 L396.01 189.55 L396.86 189.51 L397.72 189.47 L398.57 189.43 L399.43 189.39" stroke="#009e00" stroke-width="3.00" stroke-dasharray="7 2"/>
<path d="M55.97 200.85 L56.83 200.87 L57.68 200.90 L58.54 200.92 L59.39 200.94 L60.24 200.96 L61.10 200.98 L61.95 201.01 L62.81 201.03 L63.66 201.05 L64.52 201.08 L65.37 201.10 L66.22 201.12 L67.08 201.15 L67.93 201.17 L68.79 201.20 L69.64 201.22 L70.50 201.25 L71.35 201.28 L72.21 201.30 L73.06 201.33 L73.91 201.36 L74.77 201.39 L75.62 201.41 L76.48 201.44 L77.33 201.47 L78.19 201.50 L79.04 201.53 L79.89 201.56 L80.75 201.59 L81.60 201.63 L82.46 201.66 L83.31 201.69 L84.17 201.72 L85.02 201.76 L85.88 201.79 L86.73 201.82 L87.58 201.86 L88.44 201.89 L89.29 201.93 L90.15 201.97 L91.00 202.00 L91.86 202.04 L92.71 202.08 L93.56 202.12 L94.42 202.16 L95.27 202.20 L96.13 202.24 L96.98 202.28 L97.84 202.32 L98.69 202.37 L99.55 202.41 L100.40 202.45 L101.25 202.50 L102.11 202.54 L102.96 202.59 L103.82 202.64 L104.67 202.69 L105.53 202.73 L106.38 202.78 L107.23 202.83 L108.09 202.88 L108.94 202.94 L109.80 202.99 L110.65 203.04 L111.51 203.10 L112.36 203.15 L113.21 203.21 L114.07 203.27 L114.92 203.33 L115.78 203.39 L116.63 203.45 L117.49 203.51 L118.34 203.57 L119.20 203.63 L120.05 203.70 L120.90 203.77 L121.76 203.83 L122.61 203.90 L123.47 203.97 L124.32 204.04 L125.18 204.11 L126.03 204.19 L126.88 204.26 L127.74 204.34 L128.59 204.41 L129.45 204.49 L130.30 204.57 L131.16 204.65 L132.01 204.74 L132.87 204.82 L133.72 204.91 L134.57 204.99 L135.43 205.08 L136.28 205.17 L137.14 205.27 L137.99 205.36 L138.85 205.46 L139.70 205.55 L140.55 205.65 L141.41 205.75 L142.26 205.86 L143.12 205.96 L143.97 206.07 L144.83 206.17 L145.68 206.28 L146.54 206.40 L147.39 206.51 L148.24 206.63 L149.10 206.74 L149.95 206.86 L150.81 206.98 L151.66 207.11 L152.52 207.24 L153.37 207.36 L154.22 207.49 L155.08 207.63 L155.93 207.76 L156.79 207.90 L157.64 208.04 L158.50 208.18 L159.35 208.32 L160.21 208.47 L161.06 208.61 L161.91 208.76 L162.77 208.92 L163.62 209.07 L164.48 209.23 L165.33 209.38 L166.19 209.55 L167.04 209.71 L167.89 209.87 L168.75 210.04 L169.60 210.21 L170.46 210.38 L171.31 210.55 L172.17 210.72 L173.02 210.90 L173.87 211.07 L174.73 211.25 L175.58 211.43 L176.44 211.61 L177.29 211.79 L178.15 211.97 L179.00 212.16 L179.86 212.34 L180.71 212.52 L181.56 212.71 L182.42 212.89 L183.27 213.07 L184.13 213.26 L184.98 213.44 L185.84 213.62 L186.69 213.80 L187.54 213.98 L188.40 214.15 L189.25 214.33 L190.11 214.50 L190.96 214.67 L191.82 214.84 L192.67 215.00 L193.53 215.16 L194.38 215.31 L195.23 215.46 L196.09 215.61 L196.94 215.75 L197.80 215.89 L198.65 216.02 L199.51 216.15 L200.36 216.27 L201.21 216.38 L202.07 216.49 L202.92 216.60 L203.78 216.69 L204.63 216.78 L205.49 216.87 L206.34 216.95 L207.20 217.02 L208.05 217.08 L208.90 217.14 L209.76 217.20 L210.61 217.25 L211.47 217.29 L212.32 217.33 L213.18 217.36 L214.03 217.39 L214.88 217.41 L215.74 217.43 L216.59 217.45 L217.45 217.46 L218.30 217.47 L219.16 217.48 L220.01 217.49 L220.87 217.49 L221.72 217.50 L222.57 217.50 L223.43 217.50 L224.28 217.50 L225.14 217.50 L225.99 217.50 L226.85 217.50 L227.70 217.50 L228.55 217.50 L229.41 217.50 L230.26 217.50 L231.12 217.50 L231.97 217.50 L232.83 217.50 L233.68 217.50 L234.53 217.50 L235.39 217.49 L236.24 217.49 L237.10 217.49 L237.95 217.48 L238.81 217.47 L239.66 217.46 L240.52 217.45 L241.37 217.44 L242.22 217.42 L243.08 217.41 L243.93 217.38 L244.79 217.36 L245.64 217.33 L246.50 217.30 L247.35 217.27 L248.20 217.23 L249.06 217.19 L249.91 217.14 L250.77 217.09 L251.62 217.03 L252.48 216.97 L253.33 216.91 L254.19 216.84 L255.04 216.77 L255.89 216.69 L256.75 216.61 L257.60 216.52 L258.46 216.43 L259.31 216.34 L260.17 216.24 L261.02 216.14 L261.87 216.03 L262.73 215.92 L263.58 215.81 L264.44 215.69 L265.29 215.57 L266.15 215.45 L267.00 215.32 L267.86 215.19 L268.71 215.06 L269.56 214.93 L270.42 214.79 L271.27 214.65 L272.13 214.51 L272.98 214.37 L273.84 214.23 L274.69 214.09 L275.54 213.94 L276.40 213.80 L277.25 213.65 L278.11 213.51 L278.96 213.36 L279.82 213.21 L280.67 213.07 L281.53 212.92 L282.38 212.78 L283.23 212.63 L284.09 212.49 L284.94 212.34 L285.80 212.20 L286.65 212.06 L287.51 211.91 L288.36 211.77 L289.21 211.63 L290.07 211.50 L290.92 211.36 L291.78 211.22 L292.63 211.09 L293.49 210.96 L294.34 210.82 L295.19 210.69 L296.05 210.57 L296.90 210.44 L297.76 210.31 L298.61 210.19 L299.47 210.07 L300.32 209.95 L301.18 209.83 L302.03 209.71 L302.88 209.59 L303.74 209.48 L304.59 209.36 L305.45 209.25 L306.30 209.14 L307.16 209.04 L308.01 208.93 L308.86 208.83 L309.72 208.72 L310.57 208.62 L311.43 208.52 L312.28 208.42 L313.14 208.33 L313.99 208.23 L314.85 208.14 L315.70 208.05 L316.55 207.95 L317.41 207.87 L318.26 207.78 L319.12 207.69 L319.97 207.61 L320.83 207.52 L321.68 207.44 L322.53 207.36 L323.39 207.28 L324.24 207.20 L325.10 207.13 L325.95 207.05 L326.81 206.98 L327.66 206.90 L328.52 206.83 L329.37 206.76 L330.22 206.69 L331.08 206.62 L331.93 206.55 L332.79 206.49 L333.64 206.42 L334.50 206.36 L335.35 206.30 L336.20 206.23 L337.06 206.17 L337.91 206.11 L338.77 206.06 L339.62 206.00 L340.48 205.94 L341.33 205.88 L342.19 205.83 L343.04 205.78 L343.89 205.72 L344.75 205.67 L345.60 205.62 L346.46 205.57 L347.31 205.52 L348.17 205.47 L349.02 205.42 L349.87 205.37 L350.73 205.33 L351.58 205.28 L352.44 205.23 L353.29 205.19 L354.15 205.15 L355.00 205.10 L355.85 205.06 L356.71 205.02 L357.56 204.98 L358.42 204.94 L359.27 204.90 L360.13 204.86 L360.98 204.82 L361.84 204.78 L362.69 204.74 L363.54 204.70 L364.40 204.67 L365.25 204.63 L366.11 204.60 L366.96 204.56 L367.82 204.53 L368.67 204.49 L369.52 204.46 L370.38 204.43 L371.23 204.40 L372.09 204.36 L372.94 204.33 L373.80 204.30 L374.65 204.27 L375.51 204.24 L376.36 204.21 L377.21 204.18 L378.07 204.15 L378.92 204.13 L379.78 204.10 L380.63 204.07 L381.49 204.04 L382.34 204.02 L383.19 203.99 L384.05 203.96 L384.90 203.94 L385.76 203.91 L386.61 203.89 L387.47 203.86 L388.32 203.84 L389.18 203.82 L390.03 203.79 L390.88 203.77 L391.74 203.75 L392.59 203.72 L393.45 203.70 L394.30 203.68 L395.16 203.66 L396.01 203.64 L396.86 203.61 L397.72 203.59 L398.57 203.57 L399.43 203.55" stroke="#0000ff" stroke-width="3.00" stroke-dasharray="7 2"/>
<path d="M55.97 147.45 L56.83 147.58 L57.68 147.71 L58.54 147.84 L59.39 147.98 L60.24 148.11 L61.10 148.25 L61.95 148.39 L62.81 148.53 L63.66 148.67 L64.52 148.81 L65.37 148.96 L66.22 149.11 L67.08 149.26 L67.93 149.41 L68.79 149.56 L69.64 149.71 L70.50 149.87 L71.35 150.03 L72.21 150.19 L73.06 150.35 L73.91 150.51 L74.77 150.68 L75.62 150.85 L76.48 151.02 L77.33 151.19 L78.19 151.36 L79.04 151.54 L79.89 151.72 L80.75 151.90 L81.60 152.08 L82.46 152.27 L83.31 152.45 L84.17 152.64 L85.02 152.83 L85.88 153.03 L86.73 153.23 L87.58 153.42 L88.44 153.63 L89.29 153.83 L90.15 154.04 L91.00 154.25 L91.86 154.46 L92.71 154.67 L93.56 154.89 L94.42 155.11 L95.27 155.33 L96.13 155.56 L96.98 155.79 L97.84 156.02 L98.69 156.25 L99.55 156.49 L100.40 156.73 L101.25 156.97 L102.11 157.22 L102.96 157.47 L103.82 157.72 L104.67 157.98 L105.53 158.24 L106.38 158.50 L107.23 158.77 L108.09 159.04 L108.94 159.31 L109.80 159.58 L110.65 159.86 L111.51 160.15 L112.36 160.43 L113.21 160.73 L114.07 161.02 L114.92 161.32 L115.78 161.62 L116.63 161.93 L117.49 162.24 L118.34 162.55 L119.20 162.87 L120.05 163.19 L120.90 163.51 L121.76 163.84 L122.61 164.18 L123.47 164.52 L124.32 164.86 L125.18 165.21 L126.03 165.56 L126.88 165.91 L127.74 166.27 L128.59 166.64 L129.45 167.01 L130.30 167.38 L131.16 167.76 L132.01 168.14 L132.87 168.53 L133.72 168.92 L134.57 169.32 L135.43 169.72 L136.28 170.13 L137.14 170.54 L137.99 170.96 L138.85 171.38 L139.70 171.81 L140.55 172.24 L141.41 172.68 L142.26 173.12 L143.12 173.57 L143.97 174.02 L144.83 174.48 L145.68 174.94 L146.54 175.41 L147.39 175.88 L148.24 176.36 L149.10 176.84 L149.95 177.33 L150.81 177.82 L151.66 178.32 L152.52 178.83 L153.37 179.33 L154.22 179.85 L155.08 180.37 L155.93 180.89 L156.79 181.42 L157.64 181.95 L158.50 182.49 L159.35 183.03 L160.21 183.58 L161.06 184.14 L161.91 184.69 L162.77 185.25 L163.62 185.82 L164.48 186.39 L165.33 186.96 L166.19 187.54 L167.04 188.12 L167.89 188.71 L168.75 189.30 L169.60 189.89 L170.46 190.49 L171.31 191.09 L172.17 191.69 L173.02 192.29 L173.87 192.90 L174.73 193.51 L175.58 194.12 L176.44 194.73 L177.29 195.35 L178.15 195.96 L179.00 196.58 L179.86 197.19 L180.71 197.81 L181.56 198.42 L182.42 199.04 L183.27 199.65 L184.13 200.27 L184.98 200.88 L185.84 201.48 L186.69 202.09 L187.54 202.69 L188.40 203.29 L189.25 203.89 L190.11 204.48 L190.96 205.06 L191.82 205.64 L192.67 206.22 L193.53 206.78 L194.38 207.34 L195.23 207.89 L196.09 208.43 L196.94 208.97 L197.80 209.49 L198.65 210.00 L199.51 210.50 L200.36 210.99 L201.21 211.46 L202.07 211.92 L202.92 212.37 L203.78 212.80 L204.63 213.22 L205.49 213.62 L206.34 214.00 L207.20 214.36 L208.05 214.71 L208.90 215.04 L209.76 215.34 L210.61 215.63 L211.47 215.89 L212.32 216.13 L213.18 216.35 L214.03 216.55 L214.88 216.73 L215.74 216.89 L216.59 217.02 L217.45 217.14 L218.30 217.23 L219.16 217.31 L220.01 217.37 L220.87 217.42 L221.72 217.45 L222.57 217.47 L223.43 217.49 L224.28 217.49 L225.14 217.50 L225.99 217.50 L226.85 217.50 L227.70 217.50 L228.55 217.50 L229.41 217.50 L230.26 217.50 L231.12 217.50 L231.97 217.49 L232.83 217.48 L233.68 217.46 L234.53 217.43 L235.39 217.39 L236.24 217.34 L237.10 217.28 L237.95 217.19 L238.81 217.09 L239.66 216.97 L240.52 216.83 L241.37 216.67 L242.22 216.49 L243.08 216.28 L243.93 216.05 L244.79 215.80 L245.64 215.53 L246.50 215.23 L247.35 214.92 L248.20 214.58 L249.06 214.22 L249.91 213.84 L250.77 213.44 L251.62 213.02 L252.48 212.58 L253.33 212.13 L254.19 211.66 L255.04 211.17 L255.89 210.67 L256.75 210.16 L257.60 209.63 L258.46 209.09 L259.31 208.54 L260.17 207.98 L261.02 207.41 L261.87 206.83 L262.73 206.24 L263.58 205.64 L264.44 205.04 L265.29 204.43 L266.15 203.81 L267.00 203.19 L267.86 202.56 L268.71 201.93 L269.56 201.30 L270.42 200.66 L271.27 200.02 L272.13 199.38 L272.98 198.74 L273.84 198.10 L274.69 197.46 L275.54 196.82 L276.40 196.17 L277.25 195.53 L278.11 194.89 L278.96 194.25 L279.82 193.62 L280.67 192.98 L281.53 192.35 L282.38 191.72 L283.23 191.09 L284.09 190.47 L284.94 189.85 L285.80 189.23 L286.65 188.62 L287.51 188.01 L288.36 187.40 L289.21 186.80 L290.07 186.21 L290.92 185.62 L291.78 185.03 L292.63 184.45 L293.49 183.87 L294.34 183.30 L295.19 182.73 L296.05 182.17 L296.90 181.62 L297.76 181.07 L298.61 180.52 L299.47 179.98 L300.32 179.45 L301.18 178.92 L302.03 178.40 L302.88 177.88 L303.74 177.37 L304.59 176.86 L305.45 176.36 L306.30 175.87 L307.16 175.38 L308.01 174.89 L308.86 174.42 L309.72 173.94 L310.57 173.48 L311.43 173.02 L312.28 172.56 L313.14 172.11 L313.99 171.67 L314.85 171.23 L315.70 170.79 L316.55 170.36 L317.41 169.94 L318.26 169.52 L319.12 169.11 L319.97 168.70 L320.83 168.30 L321.68 167.90 L322.53 167.51 L323.39 167.13 L324.24 166.74 L325.10 166.37 L325.95 165.99 L326.81 165.63 L327.66 165.26 L328.52 164.91 L329.37 164.55 L330.22 164.20 L331.08 163.86 L331.93 163.52 L332.79 163.19 L333.64 162.86 L334.50 162.53 L335.35 162.21 L336.20 161.89 L337.06 161.58 L337.91 161.27 L338.77 160.96 L339.62 160.66 L340.48 160.36 L341.33 160.07 L342.19 159.78 L343.04 159.49 L343.89 159.21 L344.75 158.93 L345.60 158.66 L346.46 158.39 L347.31 158.12 L348.17 157.86 L349.02 157.60 L349.87 157.34 L350.73 157.08 L351.58 156.83 L352.44 156.59 L353.29 156.34 L354.15 156.10 L355.00 155.87 L355.85 155.63 L356.71 155.40 L357.56 155.17 L358.42 154.95 L359.27 154.72 L360.13 154.50 L360.98 154.29 L361.84 154.07 L362.69 153.86 L363.54 153.65 L364.40 153.45 L365.25 153.24 L366.11 153.04 L366.96 152.85 L367.82 152.65 L368.67 152.46 L369.52 152.27 L370.38 152.08 L371.23 151.89 L372.09 151.71 L372.94 151.53 L373.80 151.35 L374.65 151.17 L375.51 151.00 L376.36 150.82 L377.21 150.65 L378.07 150.49 L378.92 150.32 L379.78 150.16 L380.63 149.99 L381.49 149.83 L382.34 149.68 L383.19 149.52 L384.05 149.37 L384.90 149.21 L385.76 149.06 L386.61 148.92 L387.47 148.77 L388.32 148.62 L389.18 148.48 L390.03 148.34 L390.88 148.20 L391.74 148.06 L392.59 147.92 L393.45 147.79 L394.30 147.66 L395.16 147.52 L396.01 147.39 L396.86 147.27 L397.72 147.14 L398.57 147.01 L399.43 146.89" stroke="#00aa00" stroke-width="2.00" stroke-dasharray="3 2.737"/>
</g>
<path d="M91.30 228.50 v-4.10 M91.30 8.50 v4.10 M159.50 228.50 v-4.10 M159.50 8.50 v4.10 M227.70 228.50 v-4.10 M227.70 8.50 v4.10 M295.90 228.50 v-4.10 M295.90 8.50 v4.10 M364.10 228.50 v-4.10 M364.10 8.50 v4.10 M50.50 217.45 h4.10 M405.50 217.45 h-4.10 M50.50 183.41 h4.10 M405.50 183.41 h-4.10 M50.50 149.37 h4.10 M405.50 149.37 h-4.10 M50.50 115.33 h4.10 M405.50 115.33 h-4.10 M50.50 81.29 h4.10 M405.50 81.29 h-4.10 M50.50 47.25 h4.10 M405.50 47.25 h-4.10 M50.50 13.21 h4.10 M405.50 13.21 h-4.10" stroke="#707070" stroke-width="1" fill="none"/>
<path d="M57.20 228.50 v-2.40 M57.20 8.50 v2.40 M74.25 228.50 v-2.40 M74.25 8.50 v2.40 M108.35 228.50 v-2.40 M108.35 8.50 v2.40 M125.40 228.50 v-2.40 M125.40 8.50 v2.40 M142.45 228.50 v-2.40 M142.45 8.50 v2.40 M176.55 228.50 v-2.40 M176.55 8.50 v2.40 M193.60 228.50 v-2.40 M193.60 8.50 v2.40 M210.65 228.50 v-2.40 M210.65 8.50 v2.40 M244.75 228.50 v-2.40 M244.75 8.50 v2.40 M261.80 228.50 v-2.40 M261.80 8.50 v2.40 M278.85 228.50 v-2.40 M278.85 8.50 v2.40 M312.95 228.50 v-2.40 M312.95 8.50 v2.40 M330.00 228.50 v-2.40 M330.00 8.50 v2.40 M347.05 228.50 v-2.40 M347.05 8.50 v2.40 M381.15 228.50 v-2.40 M381.15 8.50 v2.40 M398.20 228.50 v-2.40 M398.20 8.50 v2.40 M50.50 224.26 h2.40 M405.50 224.26 h-2.40 M50.50 210.64 h2.40 M405.50 210.64 h-2.40 M50.50 203.83 h2.40 M405.50 203.83 h-2.40 M50.50 197.03 h2.40 M405.50 197.03 h-2.40 M50.50 190.22 h2.40 M405.50 190.22 h-2.40 M50.50 176.60 h2.40 M405.50 176.60 h-2.40 M50.50 169.79 h2.40 M405.50 169.79 h-2.40 M50.50 162.99 h2.40 M405.50 162.99 h-2.40 M50.50 156.18 h2.40 M405.50 156.18 h-2.40 M50.50 142.56 h2.40 M405.50 142.56 h-2.40 M50.50 135.75 h2.40 M405.50 135.75 h-2.40 M50.50 128.95 h2.40 M405.50 128.95 h-2.40 M50.50 122.14 h2.40 M405.50 122.14 h-2.40 M50.50 108.52 h2.40 M405.50 108.52 h-2.40 M50.50 101.71 h2.40 M405.50 101.71 h-2.40 M50.50 94.91 h2.40 M405.50 94.91 h-2.40 M50.50 88.10 h2.40 M405.50 88.10 h-2.40 M50.50 74.48 h2.40 M405.50 74.48 h-2.40 M50.50 67.67 h2.40 M405.50 67.67 h-2.40 M50.50 60.87 h2.40 M405.50 60.87 h-2.40 M50.50 54.06 h2.40 M405.50 54.06 h-2.40 M50.50 40.44 h2.40 M405.50 40.44 h-2.40 M50.50 33.63 h2.40 M405.50 33.63 h-2.40 M50.50 26.83 h2.40 M405.50 26.83 h-2.40 M50.50 20.02 h2.40 M405.50 20.02 h-2.40" stroke="#777" stroke-width="1" fill="none"/>
<rect x="50.50" y="8.50" width="355.00" height="220.00" fill="none" stroke="#7a7a7a" stroke-width="1"/>
<g style="will-change:transform">
<text transform="translate(77.05,253.60) scale(1.100,1)" text-anchor="middle" font-size="17.00" font-weight="bold" stroke="#000" stroke-width="0.2">−</text>
<text transform="translate(88.90,252.70) scale(1.220,1)" text-anchor="middle" font-size="17.00" font-weight="bold">0</text>
<text transform="translate(97.70,252.70) scale(1.000,1)" text-anchor="middle" font-size="17.00" font-weight="bold">.</text>
<text transform="translate(105.80,252.70) scale(1.030,1)" text-anchor="middle" font-size="17.00" font-weight="bold">4</text>
<text transform="translate(145.25,253.60) scale(1.100,1)" text-anchor="middle" font-size="17.00" font-weight="bold" stroke="#000" stroke-width="0.2">−</text>
<text transform="translate(157.10,252.70) scale(1.220,1)" text-anchor="middle" font-size="17.00" font-weight="bold">0</text>
<text transform="translate(165.90,252.70) scale(1.000,1)" text-anchor="middle" font-size="17.00" font-weight="bold">.</text>
<text transform="translate(173.40,252.70) scale(1.130,1)" text-anchor="middle" font-size="17.00" font-weight="bold">2</text>
<text transform="translate(219.20,252.70) scale(1.220,1)" text-anchor="middle" font-size="17.00" font-weight="bold">0</text>
<text transform="translate(227.70,252.70) scale(1.000,1)" text-anchor="middle" font-size="17.00" font-weight="bold">.</text>
<text transform="translate(235.50,252.70) scale(1.220,1)" text-anchor="middle" font-size="17.00" font-weight="bold">0</text>
<text transform="translate(287.40,252.70) scale(1.220,1)" text-anchor="middle" font-size="17.00" font-weight="bold">0</text>
<text transform="translate(295.90,252.70) scale(1.000,1)" text-anchor="middle" font-size="17.00" font-weight="bold">.</text>
<text transform="translate(303.70,252.70) scale(1.130,1)" text-anchor="middle" font-size="17.00" font-weight="bold">2</text>
<text transform="translate(355.60,252.70) scale(1.220,1)" text-anchor="middle" font-size="17.00" font-weight="bold">0</text>
<text transform="translate(364.10,252.70) scale(1.000,1)" text-anchor="middle" font-size="17.00" font-weight="bold">.</text>
<text transform="translate(372.50,252.70) scale(1.030,1)" text-anchor="middle" font-size="17.00" font-weight="bold">4</text>
<text transform="translate(41.00,224.55) scale(1.220,1)" text-anchor="middle" font-size="17.00" font-weight="bold">0</text>
<text transform="translate(41.00,190.51) scale(1.060,1)" text-anchor="middle" font-size="17.00" font-weight="bold">1</text>
<text transform="translate(41.00,156.47) scale(1.130,1)" text-anchor="middle" font-size="17.00" font-weight="bold">2</text>
<text transform="translate(41.00,122.43) scale(1.020,1)" text-anchor="middle" font-size="17.00" font-weight="bold">3</text>
<text transform="translate(41.00,88.39) scale(1.030,1)" text-anchor="middle" font-size="17.00" font-weight="bold">4</text>
<text transform="translate(41.00,54.35) scale(1.020,1)" text-anchor="middle" font-size="17.00" font-weight="bold">5</text>
<text transform="translate(41.00,20.31) scale(1.080,1)" text-anchor="middle" font-size="17.00" font-weight="bold">6</text>
<text x="215.7" y="286.8" font-size="20" font-style="italic">C</text>
<text x="229.6" y="277.8" font-size="14.6" font-style="italic">A</text>
<text x="228.9" y="292.2" font-size="16">2</text>
<text transform="translate(19.5,122.2) rotate(-90) scale(1.42,0.94)" text-anchor="middle" font-size="20" font-style="italic">χ</text>
<text transform="translate(11.6,114.6) rotate(-90) scale(1.15,1)" text-anchor="middle" font-size="15.7">2</text>
</g>
</svg></body></html>
